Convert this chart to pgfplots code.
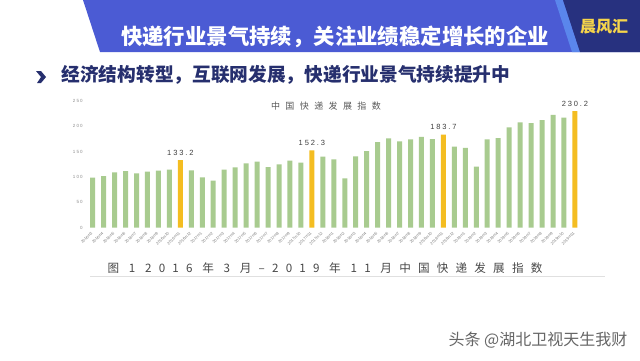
\documentclass[border=0pt]{standalone}
\usepackage{fontspec}
\setmainfont{Liberation Sans}
\newfontfamily\cjk{Noto Sans CJK SC}
\newfontfamily\cjkcap{Noto Sans CJK SC}[LetterSpace=62]
\newfontfamily\cjktitle{Noto Sans CJK SC}[LetterSpace=60]
\newfontfamily\numsp{Liberation Sans}[LetterSpace=25]
\usepackage{pgfplots}
\usepackage{pgfplotstable}
\pgfplotsset{compat=1.18}
\definecolor{hdrblue}{HTML}{4B5BD4}
\definecolor{hdrlight}{HTML}{5A86EC}
\definecolor{hdrdark}{HTML}{27317F}
\definecolor{navy}{HTML}{262F6E}
\definecolor{bargreen}{HTML}{A8CB8F}
\definecolor{baryellow}{HTML}{F4BD21}
\definecolor{logoyellow}{HTML}{F7D54A}

\pgfplotstableread{
x y
1 98.4
2 101.6
3 108.9
4 111.5
5 106.9
6 110.2
7 112.2
8 114.2
10 112.8
11 99.0
12 92.4
13 114.2
14 118.8
15 126.7
16 130.0
17 119.5
18 124.8
19 132.0
20 128.0
22 139.9
23 134.6
24 97.0
25 140.6
26 151.0
27 168.8
28 176.0
29 170.1
30 174.0
31 179.2
32 174.7
34 159.8
35 157.2
36 120.4
37 174.0
38 176.6
39 197.9
40 207.6
41 206.3
42 212.1
43 222.5
44 217.3
}\greendata

\pgfplotstableread{
x y lab
9 133.2 133.2
21 152.3 152.3
33 183.7 183.7
45 230.2 230.2
}\yellowdata

\begin{document}
\begin{tikzpicture}[x=1pt,y=1pt]
\path[use as bounding box, fill=white] (0,0) rectangle (640,360);
% header
\fill[hdrblue] (83,360) -- (640,360) -- (640,308) -- (100,308) -- cycle;
\fill[hdrlight] (555,360) -- (563,360) -- (580,308) -- (572,308) -- cycle;
\fill[hdrdark] (563,360) -- (640,360) -- (640,308) -- (580,308) -- cycle;
\node[white, font=\cjk\bfseries\fontsize{21.4}{21.4}\selectfont] at (335,323) {快递行业景气持续，关注业绩稳定增长的企业};
\node[logoyellow, font=\cjk\bfseries\fontsize{16}{16}\selectfont] at (604,333) {晨风汇};
% subtitle
\fill[navy] (36,289) -- (41,289) -- (46,283) -- (41,277) -- (37,277) -- (41,283) -- cycle;
\node[anchor=west, navy, font=\cjk\bfseries\fontsize{18.7}{18.7}\selectfont] at (58,285) {经济结构转型，互联网发展，快递行业景气持续提升中};
% chart title & caption
\node[black!65, font=\cjktitle\fontsize{9}{9}\selectfont] at (326,254) {中国快递发展指数};
\node[black!72, font=\cjkcap\fontsize{11.6}{11.6}\selectfont] at (325,92) {图 1 2016 年 3 月–2019 年 11 月中国快递发展指数};
\draw[black!12, line width=0.8pt] (90,84) -- (605,84);
% watermark
\node[black!60, font=\cjk\fontsize{16}{16}\selectfont] at (538,20) {头条 @湖北卫视天生我财};

\begin{axis}[
  at={(87.2pt,132.5pt)}, anchor=south west,
  scale only axis, width=493.2pt, height=131.56pt,
  xmin=0.5, xmax=45.5, ymin=0, ymax=260,
  axis line style={draw=none}, tick style={draw=none},
  clip=false,
  ybar, bar width=5pt,
  /pgf/number format/assume math mode=true,
  ytick={0,50,100,150,200,250},
  yticklabel style={font=\numsp\fontsize{4.5}{4.5}\selectfont, black!45, xshift=-1pt},
  xtick={1,...,45},
  xticklabels={2016m3,2016m4,2016m5,2016m6,2016m7,2016m8,2016m9,2016m10,2016m11,2016m12,
    2017m1,2017m2,2017m3,2017m4,2017m5,2017m6,2017m7,2017m8,2017m9,2017m10,2017m11,2017m12,
    2018m1,2018m2,2018m3,2018m4,2018m5,2018m6,2018m7,2018m8,2018m9,2018m10,2018m11,2018m12,
    2019m1,2019m2,2019m3,2019m4,2019m5,2019m6,2019m7,2019m8,2019m9,2019m10,2019m11},
  xticklabel style={rotate=45, anchor=east, font=\fontsize{4}{4}\selectfont, black!50, inner sep=1pt},
]
\addplot[fill=bargreen, draw=none, bar shift=0pt] table[x=x,y=y] {\greendata};
\addplot[fill=baryellow, draw=none, bar shift=0pt,
  nodes near coords, point meta=explicit symbolic,
  nodes near coords style={font=\numsp\fontsize{7.5}{7.5}\selectfont, black!75, yshift=1pt}]
  table[x=x,y=y,meta=lab] {\yellowdata};
\end{axis}
\end{tikzpicture}
\end{document}
